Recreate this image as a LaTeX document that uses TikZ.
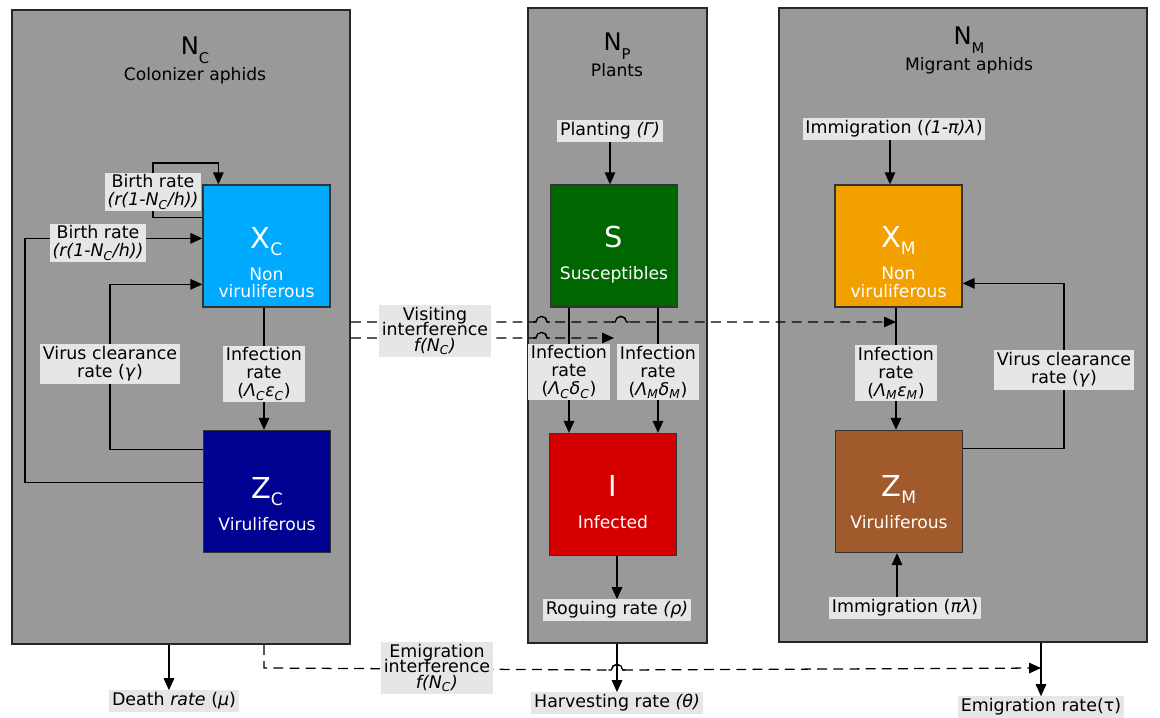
\documentclass[tikz,border=0pt]{standalone}
\usepackage{fontspec}
\setmainfont{DejaVu Sans}
\definecolor{panelgray}{RGB}{153, 153, 153}
\definecolor{ratebg}{RGB}{230, 230, 230}
\definecolor{xcblue}{RGB}{0, 170, 255}
\definecolor{zcnavy}{RGB}{0, 0, 145}
\definecolor{sgreen}{RGB}{0, 102, 0}
\definecolor{ired}{RGB}{212, 0, 0}
\definecolor{xmorange}{RGB}{242, 160, 0}
\definecolor{zmbrown}{RGB}{160, 90, 44}
\usepackage{tikz}
\usetikzlibrary{arrows.meta, positioning, calc}
\pgfdeclarelayer{back}
\pgfdeclarelayer{mid}
\pgfsetlayers{back,mid,main}
\newcommand{\bigvar}[2]{{\fontsize{20.5}{24}\selectfont #1}\smash{\raisebox{-5pt}{\fontsize{12.2}{13}\selectfont #2}}}
\newcommand{\ttlvar}[2]{{\fontsize{17.2}{20}\selectfont #1}\smash{\raisebox{-6pt}{\fontsize{10.5}{12}\selectfont #2}}}

\begin{document}
\begin{tikzpicture}[x=0.025cm, y=-0.025cm,
  panel/.style={draw=black!85, fill=panelgray, line width=1.3pt, inner sep=0pt, anchor=north west},
  ttl/.style={anchor=north, align=center, inner sep=0pt, font=\fontsize{12.2}{13}\selectfont},
  comp/.style={draw=black!80, line width=0.9pt, minimum width=3.175cm, minimum height=3.05cm, inner sep=0pt},
  comptext/.style={text=white, align=center, inner sep=0pt, font=\fontsize{12.2}{12.3}\selectfont},
  rate/.style={fill=ratebg, align=center, inner xsep=2pt, inner ysep=1.5pt, font=\fontsize{12.4}{12.8}\selectfont},
  interfbox/.style={rate, font={\fontsize{12.4}{11}\selectfont\lineskiplimit=-6pt}},
  flow/.style={line width=0.9pt, -{Triangle[length=8.5pt, width=7.5pt]}},
  interf/.style={flow, dash pattern=on 7pt off 4.5pt},
  hop/.style={line width=0.9pt}]
  \useasboundingbox (0,0) rectangle (1160,718);

  % panels
  \begin{pgfonlayer}{back}
    \node[panel, minimum width=8.45cm, minimum height=15.85cm] (panC) at (11,9) {};
    \node[panel, minimum width=4.475cm, minimum height=15.875cm] (panP) at (527,7) {};
    \node[panel, minimum width=9.2cm, minimum height=15.85cm] (panM) at (778,7) {};
  \end{pgfonlayer}

  % panel titles
  \node[ttl] (tC) at (195,37) {\ttlvar{N}{C}\\[5pt]Colonizer aphids};
  \node[ttl] (tP) at (617,33) {\ttlvar{N}{P}\\[5pt]Plants};
  \node[ttl] (tM) at (969,27) {\ttlvar{N}{M}\\[5pt]Migrant aphids};

  % compartments
  \node[comp, fill=xcblue, label={[comptext, yshift=-0.42cm]center:{\bigvar{X}{C}\\[10.5pt]Non\\viruliferous}}] (xc) at (266.5,246) {};
  \node[comp, fill=zcnavy, label={[comptext, yshift=-0.31cm]center:{\bigvar{Z}{C}\\[10.5pt]Viruliferous}}] (zc) at (267,491.5) {};
  \node[comp, fill=sgreen, label={[comptext, yshift=-0.22cm]center:{{\fontsize{20.5}{24}\selectfont S}\\[10.5pt]Susceptibles}}] (susc) at (614,246) {};
  \node[comp, fill=ired, label={[comptext, yshift=-0.18cm]center:{{\fontsize{20.5}{24}\selectfont I}\\[10.5pt]Infected}}] (infd) at (613,494.5) {};
  \node[comp, fill=xmorange, label={[comptext, yshift=-0.4cm]center:{\bigvar{X}{M}\\[10.5pt]Non\\viruliferous}}] (xm) at (898.5,246) {};
  \node[comp, fill=zmbrown, label={[comptext, yshift=-0.26cm]center:{\bigvar{Z}{M}\\[10.5pt]Viruliferous}}] (zm) at (899,491.5) {};

  % rates
  \node[rate] (birthA) at (153,192) {Birth rate\\\textit{(r(1-N\textsubscript{C}/h))}};
  \node[rate] (birthB) at (98,243) {Birth rate\\\textit{(r(1-N\textsubscript{C}/h))}};
  \node[rate] (clearC) at (110,364) {Virus clearance\\rate (\textit{γ})};
  \node[rate] (infC) at (264,374) {Infection\\rate\\(\textit{Λ\textsubscript{C}ε\textsubscript{C}})};
  \node[interfbox] (vis) at (435,331) {Visiting\\interference\\\textit{f(N\textsubscript{C})}};
  \node[rate] (plant) at (610,131) {Planting \textit{(Γ)}};
  \node[rate] (infCS) at (569,372) {Infection\\rate\\(\textit{Λ\textsubscript{C}δ\textsubscript{C}})};
  \node[rate] (infMS) at (658,372) {Infection\\rate\\(\textit{Λ\textsubscript{M}δ\textsubscript{M}})};
  \node[rate] (rog) at (617,610) {Roguing rate \textit{(ρ)}};
  \node[rate] (imm1) at (894,129) {Immigration (\textit{(1-π)λ})};
  \node[rate] (infM) at (896,373) {Infection\\rate\\(\textit{Λ\textsubscript{M}ε\textsubscript{M}})};
  \node[rate] (clearM) at (1064,370) {Virus clearance\\rate (\textit{γ})};
  \node[rate] (imm2) at (905,608) {Immigration (\textit{πλ})};
  \node[rate] (death) at (174,701) {Death \textit{rate} (\textit{μ})};
  \node[interfbox] (emigI) at (437,668) {Emigration\\interference\\\textit{f(N\textsubscript{C})}};
  \node[rate] (harv) at (617,703) {Harvesting rate \textit{(θ)}};
  \node[rate] (emigR) at (1041,707) {Emigration rate(τ)};

  % flows
  \begin{pgfonlayer}{mid}
    \draw[flow] ($(xc.north west)+(0,33)$) -| ($(birthA)+(0,-29)$) -| ($(xc.north west)+(16,0)$);
    \draw[flow] ($(zc.north west)+(0,53)$) -| ($(panC.west)+(14,0)$) |- ($(xc.north west)+(0,54)$);
    \draw[flow] ($(zc.north west)+(0,20)$) -| (clearC) |- ($(xc.north west)+(0,100)$);
    \draw[flow] (xc.south -| infC) -- (zc.north -| infC);
    \draw[flow] ($(panC.south)+(-12,0)$) coordinate (d0) -- (d0 |- death.north);

    \draw[flow] (plant) -- (plant |- susc.north);
    \draw[flow] (susc.south -| infCS) -- (infd.north -| infCS);
    \draw[flow] (susc.south -| infMS) -- (infd.north -| infMS);
    \draw[flow] (infd.south -| rog) -- (rog);
    \draw[flow] (panP.south -| harv) -- (harv);

    \draw[flow] ($(imm1.south)+(-4,0)$) coordinate (i0) -- (i0 |- xm.north);
    \draw[flow] (xm.south -| infM) -- (zm.north -| infM);
    \draw[flow] ($(zm.north east)+(0,19)$) -| (clearM) |- ($(xm.north east)+(0,99)$);
    \draw[flow] ($(imm2.north)+(-8,0)$) coordinate (i1) -- (i1 |- zm.south);
    \draw[flow] (panM.south -| emigR) -- (emigR);

    % interference, with line hops
    \coordinate (visU) at ($(panC.north east)+(0,313)$);
    \coordinate (visL) at ($(panC.north east)+(0,329)$);
    \draw[interf] (visU) -- ++(185,0) coordinate (hopA) arc[start angle=180, end angle=0, radius=4pt]
      -- ++(68,0) coordinate (hopB) arc[start angle=180, end angle=0, radius=4pt] -- (visU -| infM);
    \draw[interf] (visL) -- ++(185,0) coordinate (hopC) arc[start angle=180, end angle=0, radius=4pt] -- (visL -| susc);
    \draw[interf] (panC.south -| infC) -- (infC |- emigI)
      -- ($(panP.south -| harv)+(-5.6,26)$) coordinate (hopD) arc[start angle=180, end angle=0, radius=4pt] -- (emigI -| emigR);
    \foreach \h in {hopA, hopB, hopC, hopD}
      \draw[hop] ($(\h)+(-3,0)$) -- (\h) arc[start angle=180, end angle=0, radius=4pt] -- ++(3,0);
  \end{pgfonlayer}
\end{tikzpicture}
\end{document}
